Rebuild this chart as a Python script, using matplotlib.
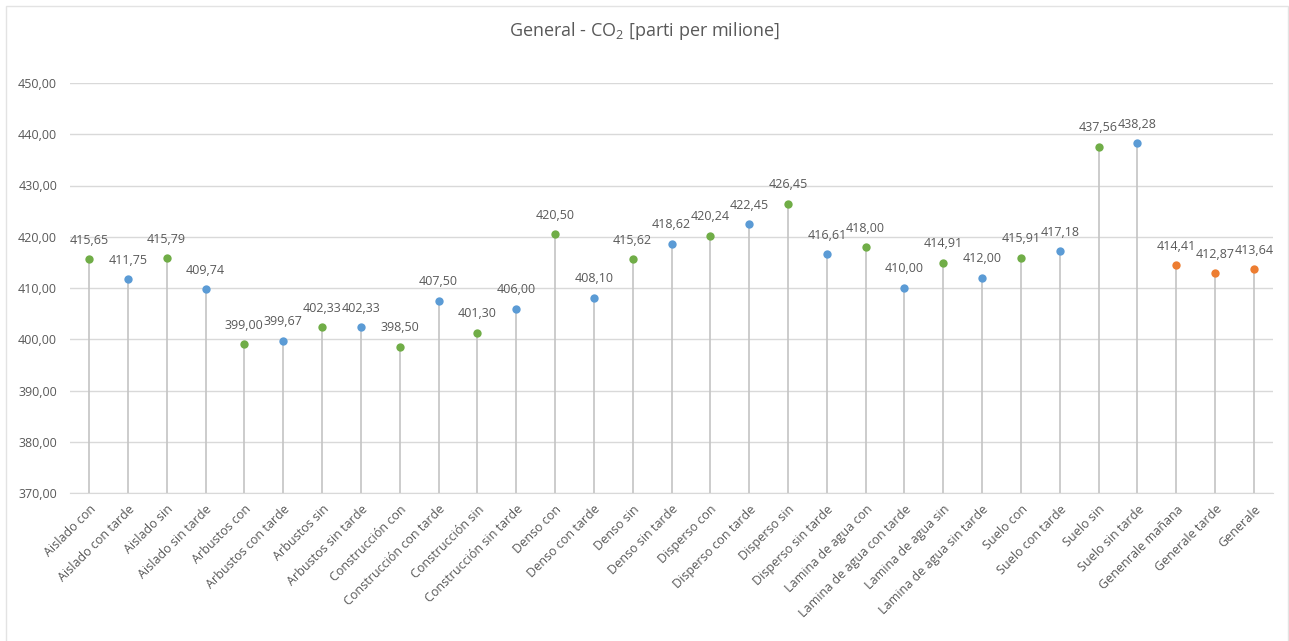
import matplotlib
matplotlib.use("Agg")
import matplotlib.pyplot as plt
from matplotlib.patches import Rectangle

categories = [
    "Aislado con", "Aislado con tarde", "Aislado sin", "Aislado sin tarde",
    "Arbustos con", "Arbustos con tarde", "Arbustos sin", "Arbustos sin tarde",
    "Construcción con", "Construcción con tarde", "Construcción sin", "Construcción sin tarde",
    "Denso con", "Denso con tarde", "Denso sin", "Denso sin tarde",
    "Disperso con", "Disperso con tarde", "Disperso sin", "Disperso sin tarde",
    "Lamina de agua con", "Lamina de agua con tarde", "Lamina de agua sin", "Lamina de agua sin tarde",
    "Suelo con", "Suelo con tarde", "Suelo sin", "Suelo sin tarde",
    "Genenrale mañana", "Generale tarde", "Generale",
]
values = [
    415.65, 411.75, 415.79, 409.74,
    399.00, 399.67, 402.33, 402.33,
    398.50, 407.50, 401.30, 406.00,
    420.50, 408.10, 415.62, 418.62,
    420.24, 422.45, 426.45, 416.61,
    418.00, 410.00, 414.91, 412.00,
    415.91, 417.18, 437.56, 438.28,
    414.41, 412.87, 413.64,
]
# g = morning (con/sin), b = afternoon (tarde), o = overall averages
groups = ["g", "b"] * 14 + ["o", "o", "o"]
group_colors = {"g": "#70AD47", "b": "#5B9BD5", "o": "#ED7D31"}

title = "General - CO$_2$ [parti per milione]"
y_min, y_max, y_step = 370, 450, 10

text_color = "#595959"
plt.rcParams["font.family"] = ["Open Sans", "DejaVu Sans"]
plt.rcParams["mathtext.fontset"] = "custom"
plt.rcParams["mathtext.rm"] = "Open Sans"
plt.rcParams["mathtext.it"] = "Open Sans"
plt.rcParams["mathtext.default"] = "regular"

fig = plt.figure(figsize=(12.89, 6.41), dpi=100)
W, H = 1289, 641
ax = fig.add_axes([69.6 / W, 1 - 493 / H, (1273.4 - 69.6) / W, (493 - 83) / H])

# chart frame
fig.patches.append(Rectangle((6 / W, -0.1), (1288 - 6) / W, 1.1 - 6 / H,
                             transform=fig.transFigure, fill=False,
                             edgecolor="#E3E3E3", linewidth=1.0))

x = list(range(len(categories)))
for xi, v, g in zip(x, values, groups):
    ax.plot([xi, xi], [y_min, v], color="#C4C4C4", linewidth=1.2, zorder=2)
    ax.plot(xi, v, "o", color=group_colors[g], markersize=6, zorder=3,
            markeredgewidth=0)
    ax.annotate(f"{v:.2f}".replace(".", ","), (xi, v), xytext=(0, 9),
                textcoords="offset points", ha="center", va="bottom",
                fontsize=9, color=text_color)

ax.set_xlim(-0.5, len(categories) - 0.5)
ax.set_ylim(y_min, y_max)
yt = list(range(y_min, y_max + 1, y_step))
ax.set_yticks(yt)
ax.set_yticklabels([f"{t:.2f}".replace(".", ",") for t in yt],
                   fontsize=9, color=text_color)
ax.set_xticks(x)
ax.set_xticklabels(categories, rotation=45, ha="right", rotation_mode="anchor",
                   fontsize=9, color=text_color)
ax.tick_params(axis="both", length=0)
ax.tick_params(axis="y", pad=9)
ax.tick_params(axis="x", pad=7)
ax.grid(axis="y", color="#D9D9D9", linewidth=1.0, zorder=0)
for s in ["top", "right", "left"]:
    ax.spines[s].set_visible(False)
ax.spines["bottom"].set_color("#D9D9D9")
ax.set_axisbelow(True)

fig.text(0.5, 1 - 31 / H, title, ha="center", va="center", fontsize=13,
         color=text_color)

fig.savefig("out.png", dpi=100, facecolor="white")
